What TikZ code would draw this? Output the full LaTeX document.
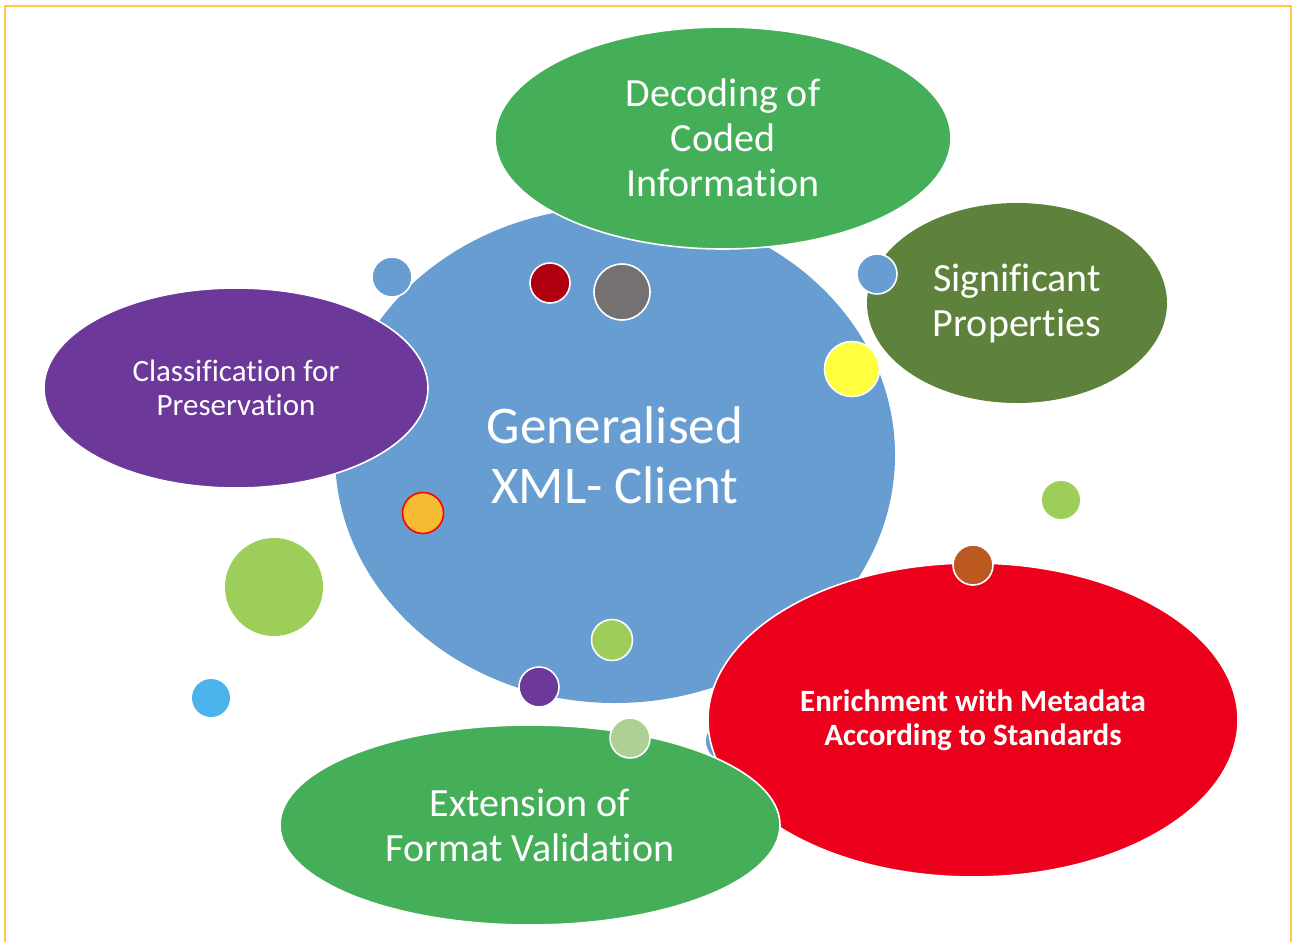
\documentclass[tikz,border=0pt]{standalone}
\usepackage{fontspec}
\setmainfont{Carlito}[RawFeature=-liga, RawFeature=-clig, RawFeature=-calt, RawFeature=-ccmp]
\usetikzlibrary{shapes.geometric}

\definecolor{clientblue}{RGB}{104,157,210}
\definecolor{leafgreen}{RGB}{68,175,88}
\definecolor{olivegreen}{RGB}{94,130,59}
\definecolor{plum}{RGB}{108,56,153}
\definecolor{signalred}{RGB}{236,0,28}
\definecolor{lime}{RGB}{157,206,90}
\definecolor{palegreen}{RGB}{175,208,149}
\definecolor{darkred}{RGB}{176,0,16}
\definecolor{stone}{RGB}{117,113,113}
\definecolor{lemon}{RGB}{255,255,63}
\definecolor{amber}{RGB}{246,187,51}
\definecolor{rust}{RGB}{187,89,32}
\definecolor{sky}{RGB}{75,180,236}
\definecolor{frame}{RGB}{255,200,70}

\begin{document}
\begin{tikzpicture}[x=1pt, y=-1pt,
  bubble/.style={ellipse, draw=white, line width=1.6pt, inner sep=0pt, align=center, text=white},
  spot/.style={circle, draw=white, line width=1.6pt, inner sep=0pt, minimum size=#1},
  spot/.default=40pt,
  big/.style={font=\fontsize{40}{45}\selectfont},
  small/.style={font=\fontsize{31}{34.5}\selectfont}
]
\useasboundingbox (0,0) rectangle (1292,942);
\draw[frame, line width=1.5pt] (5,942) -- (5,6) -- (1291,6) -- (1291,942);

% centre bubble
\node[bubble, draw=none, fill=clientblue, minimum width=560pt, minimum height=496pt,
  font=\fontsize{53}{60}\selectfont] (client) at (615,455) {Generalised\\XML- Client};

\node[spot, fill=clientblue] (dotA) at (392,277) {};
\node[spot, fill=clientblue, draw=none] (dotC) at (726,741) {};

% outer bubbles
\node[bubble, fill=plum, small, minimum width=384pt, minimum height=200pt] (classif) at (236,388)
  {Classification for\\Preservation};
\node[bubble, fill=leafgreen, big, minimum width=456pt, minimum height=222pt] (decoding) at (723,138)
  {Decoding of\\Coded\\Information};
\node[bubble, fill=olivegreen, big, draw=none, minimum width=300pt, minimum height=200pt] (sigprops) at (1017,303)
  {Significant\\Properties};
\node[bubble, fill=signalred, font=\bfseries\fontsize{31}{34.5}\selectfont,
  minimum width=530pt, minimum height=314pt] (enrich) at (973,720)
  {Enrichment with Metadata\\According to Standards};
\node[bubble, fill=leafgreen, big, minimum width=500pt, minimum height=200pt] (extension) at (530,825)
  {Extension of\\Format Validation};

% small dots
\node[spot, fill=clientblue] (dotB) at (877,274) {};
\node[spot, fill=darkred] (dotD) at (550,283) {};
\node[spot=56pt, fill=stone] (dotE) at (622,292) {};
\node[spot=55pt, fill=lemon] (dotF) at (852,369) {};
\node[spot=41pt, fill=amber, draw=red] (dotG) at (423,513) {};
\node[spot=98pt, fill=lime, draw=none] (dotH) at (274,587) {};
\node[spot=38pt, fill=sky, draw=none] (dotI) at (211,698) {};
\node[spot=41pt, fill=lime] (dotJ) at (612,640) {};
\node[spot, fill=plum] (dotK) at (539,687) {};
\node[spot, fill=palegreen] (dotL) at (630,738) {};
\node[spot, fill=rust] (dotM) at (973,565) {};
\node[spot=38pt, fill=lime, draw=none] (dotN) at (1061,500) {};
\end{tikzpicture}
\end{document}
